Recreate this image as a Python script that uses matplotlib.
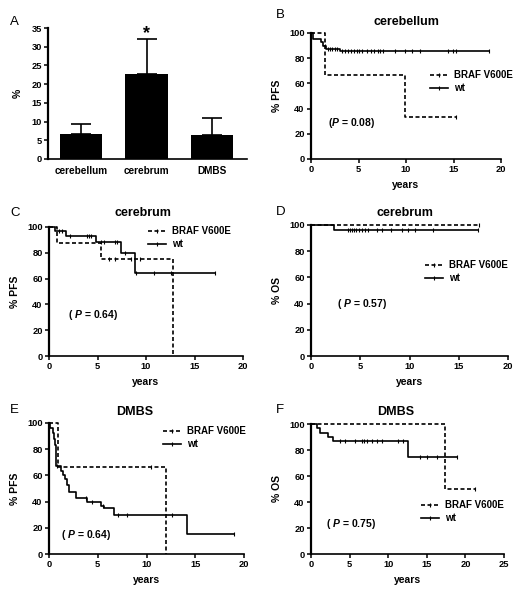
import matplotlib
matplotlib.use("Agg")
import matplotlib.pyplot as plt
from matplotlib.lines import Line2D
import numpy as np

plt.rcParams['font.family'] = ['Liberation Sans', 'DejaVu Sans']
plt.rcParams['mathtext.fontset'] = 'custom'
plt.rcParams['mathtext.it'] = 'Liberation Sans:bold:italic'
plt.rcParams['mathtext.rm'] = 'Liberation Sans:bold'

W, H = 526, 602

# panel A: BRAF V600E frequency by site
a_sites = ['cerebellum', 'cerebrum', 'DMBS']
a_pct = [6.6, 22.7, 6.4]
a_err = [2.7, 9.4, 4.6]

# Kaplan-Meier curves: event times, survival after event, last follow-up, censor times
b_wt_t = [0.25, 1.1, 1.3, 1.6, 3.1]
b_wt_s = [95, 92.5, 90, 87.5, 85.4]
b_wt_end = 18.7
b_wt_cens = [1.5, 1.8, 2.0, 2.2, 2.5, 2.7, 3.3, 3.6, 3.9, 4.2, 4.5, 4.8, 5.1, 5.4,
             5.9, 6.3, 6.6, 7.0, 7.3, 7.6, 8.8, 9.9, 10.6, 11.5, 14.4, 14.9, 15.3, 18.7]
b_mut_t = [1.45, 9.85]
b_mut_s = [66.7, 33.3]
b_mut_end = 15.3
b_mut_cens = [15.3]

c_wt_t = [0.6, 1.8, 4.8, 7.4, 8.9]
c_wt_s = [97, 93, 88, 80, 64]
c_wt_end = 17.1
c_wt_cens = [1.0, 1.3, 2.2, 3.9, 4.1, 4.3, 5.4, 5.7, 6.8, 7.0, 7.8, 9.0, 10.8, 12.6, 17.1]
c_mut_t = [0.8, 5.35, 12.8]
c_mut_s = [87.5, 75, 0]
c_mut_end = 12.8
c_mut_cens = [6.2, 6.8, 8.5, 9.4]

d_wt_t = [2.3]
d_wt_s = [96]
d_wt_end = 17.0
d_wt_cens = [3.8, 4.0, 4.2, 4.4, 4.6, 4.9, 5.2, 5.5, 5.8, 6.7, 7.2, 8.1, 9.2,
             9.8, 10.6, 12.4, 17.0]
d_mut_t = []
d_mut_s = []
d_mut_end = 17.1
d_mut_cens = [17.1]

e_wt_t = [0.15, 0.4, 0.55, 0.62, 0.75, 1.2, 1.4, 1.6, 1.8, 2.0, 2.1, 2.8, 3.9,
          5.3, 5.6, 6.7, 14.2]
e_wt_s = [96, 92, 88, 83, 67, 63, 60, 57, 53, 50, 47, 43, 40, 37, 35, 30, 15]
e_wt_end = 19.0
e_wt_cens = [0.85, 3.8, 4.4, 5.5, 7.1, 8.0, 12.6, 19.0]
e_mut_t = [0.95, 12.0]
e_mut_s = [66.7, 0]
e_mut_end = 12.0
e_mut_cens = [10.5]

f_wt_t = [0.75, 1.2, 2.2, 2.8, 12.6]
f_wt_s = [96.7, 93.3, 90, 86.7, 74.3]
f_wt_end = 18.9
f_wt_cens = [3.8, 4.4, 5.7, 6.65, 6.9, 7.2, 7.85, 8.5, 9.2, 11.3, 11.9,
             14.1, 15.0, 16.3, 18.9]
f_mut_t = [17.3]
f_mut_s = [50]
f_mut_end = 21.2
f_mut_cens = [21.2]

DASH = (0, (2.4, 1.5))


def px_axes(l, r, t, b):
    return fig.add_axes([l / W, 1 - b / H, (r - l) / W, (b - t) / H])


def style(ax):
    for s in ['top', 'right']:
        ax.spines[s].set_visible(False)
    ax.spines['left'].set_linewidth(1.6)
    ax.spines['bottom'].set_linewidth(1.2)
    ax.tick_params(direction='out', length=3, width=1.1, labelsize=6.7, pad=1.5)
    for lab in ax.get_xticklabels() + ax.get_yticklabels():
        lab.set_fontweight('bold')


def km(ax, times, surv, end, cens, ls):
    t = np.concatenate([[0], times, [end]])
    s = np.concatenate([[100], surv, [surv[-1] if len(surv) else 100]])
    ax.step(t, s, where='post', color='k', lw=1.2, ls=ls, clip_on=False)
    cens = np.array(cens)
    idx = np.searchsorted(np.array(times), cens, side='right')
    lev = np.concatenate([[100], surv])[idx]
    ax.plot(cens, lev, ls='none', marker='|', ms=3.2, mew=0.8, color='k', clip_on=False)


def fig_text(x, y, s, **kw):
    fig.text(x / W, 1 - y / H, s, **kw)


fig = plt.figure(figsize=(W / 100, H / 100), dpi=100)

# ---- A
ax = px_axes(48, 247, 28, 159)
x = np.arange(len(a_sites))
ax.bar(x, a_pct, width=0.64, color='k')
ax.errorbar(x, a_pct, yerr=[np.zeros(3), a_err], fmt='none', ecolor='k',
            elinewidth=1.2, capsize=7.5, capthick=1.2)
ax.set_xlim(-0.5, 2.53)
ax.set_ylim(0, 35)
ax.set_yticks(np.arange(0, 36, 5))
ax.set_xticks(x)
ax.set_xticklabels(a_sites)
style(ax)
ax.tick_params(axis='x', length=0, labelsize=7.2, pad=5)
ax.set_ylabel('%', fontsize=7.5, fontweight='bold', labelpad=6)
ax.text(1, 33.6, '*', ha='center', va='center', fontsize=13, fontweight='bold')

panels = [
    # letter, rect, title, ylabel, xmax, wt, mut, ptext, ppos, legpos, letterpos, titlepos
    ('B', (311, 501, 33, 159), 'cerebellum', '% PFS', 20,
     (b_wt_t, b_wt_s, b_wt_end, b_wt_cens), (b_mut_t, b_mut_s, b_mut_end, b_mut_cens),
     '(P = 0.08)', (328, 123), (430, 70), (276, 15), (406, 22)),
    ('C', (49, 243, 227, 356), 'cerebrum', '% PFS', 20,
     (c_wt_t, c_wt_s, c_wt_end, c_wt_cens), (c_mut_t, c_mut_s, c_mut_end, c_mut_cens),
     '( P = 0.64)', (68, 315), (148, 226), (10, 213), (143, 213)),
    ('D', (311, 508, 225, 356), 'cerebrum', '% OS', 20,
     (d_wt_t, d_wt_s, d_wt_end, d_wt_cens), (d_mut_t, d_mut_s, d_mut_end, d_mut_cens),
     '( P = 0.57)', (337, 304), (425, 260), (276, 212), (405, 213)),
    ('E', (49, 244, 423, 554), 'DMBS', '% PFS', 20,
     (e_wt_t, e_wt_s, e_wt_end, e_wt_cens), (e_mut_t, e_mut_s, e_mut_end, e_mut_cens),
     '( P = 0.64)', (61, 535), (163, 426), (10, 410), (135, 412)),
    ('F', (311, 504, 424, 554), 'DMBS', '% OS', 25,
     (f_wt_t, f_wt_s, f_wt_end, f_wt_cens), (f_mut_t, f_mut_s, f_mut_end, f_mut_cens),
     '( P = 0.75)', (326, 524), (421, 500), (276, 410), (396, 412)),
]

for (letter, rect, title, ylab, xmax, wt, mut, ptxt, ppos, legpos, lpos, tpos) in panels:
    ax = px_axes(*rect)
    km(ax, *mut, DASH)
    km(ax, *wt, '-')
    ax.set_xlim(0, xmax)
    ax.set_ylim(0, 100)
    ax.set_xticks(np.arange(0, xmax + 1, 5))
    ax.set_yticks(np.arange(0, 101, 20))
    style(ax)
    ax.set_xlabel('years', fontsize=7.5, fontweight='bold', labelpad=4)
    ax.set_ylabel(ylab, fontsize=7.5, fontweight='bold', labelpad=5)
    handles = [Line2D([], [], color='k', ls=DASH, lw=1.2, marker='|', ms=3.2, mew=0.8),
               Line2D([], [], color='k', ls='-', lw=1.2, marker='|', ms=3.2, mew=0.8)]
    ax.legend(handles, ['BRAF V600E', 'wt'], loc='upper left', frameon=False,
              bbox_to_anchor=(legpos[0] / W, 1 - legpos[1] / H),
              bbox_transform=fig.transFigure, borderpad=0, borderaxespad=0,
              handlelength=1.9, handletextpad=0.6, labelspacing=0.35, numpoints=1,
              prop={'size': 7, 'weight': 'bold'})
    fig_text(*ppos, ptxt.replace('P', '$P$'), fontsize=7.5, fontweight='bold',
             ha='left', va='center')
    fig_text(*lpos, letter, fontsize=9.5, ha='left', va='center')
    fig_text(*tpos, title, fontsize=9, fontweight='bold', ha='center', va='center')

fig_text(10, 22, 'A', fontsize=9.5, ha='left', va='center')

fig.savefig('out.png', dpi=100)
